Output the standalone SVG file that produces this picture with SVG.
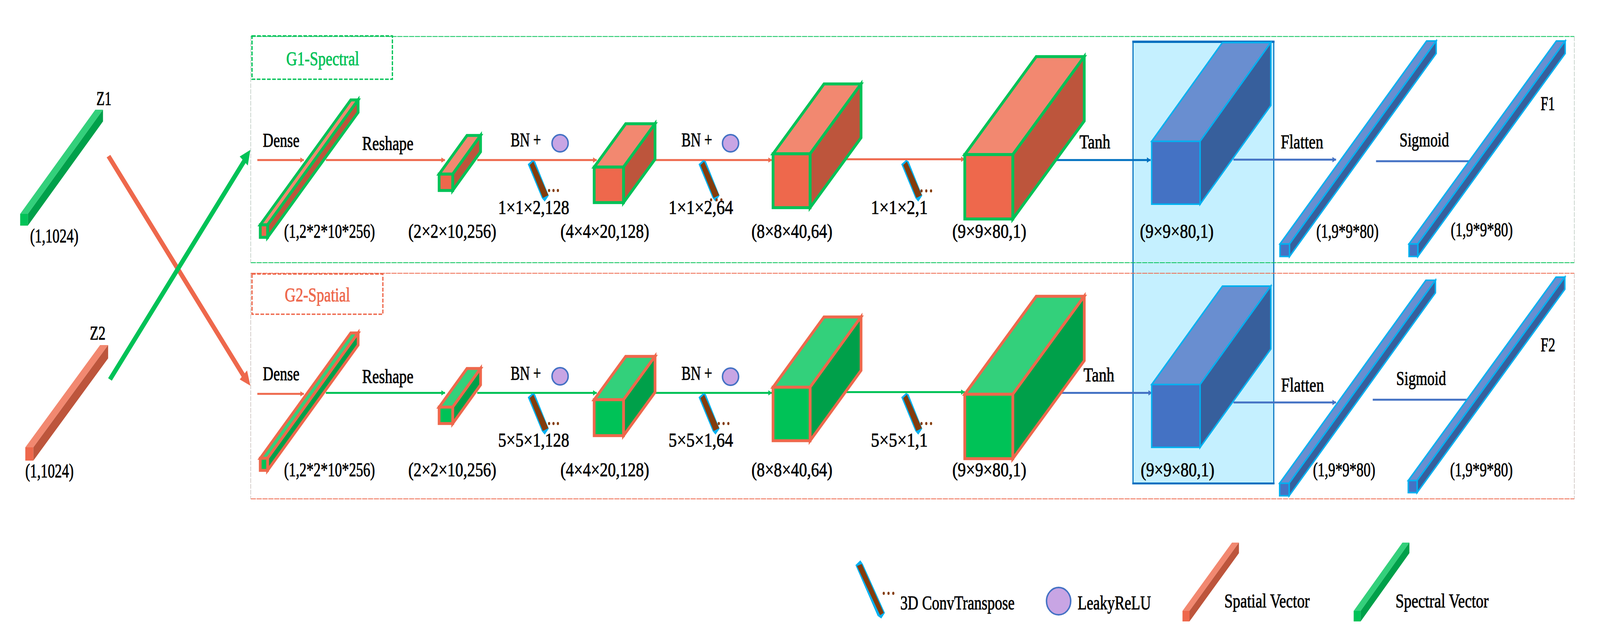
<svg xmlns="http://www.w3.org/2000/svg" xmlns:xlink="http://www.w3.org/1999/xlink" width="4365" height="1637" viewBox="0 0 4365 1637" preserveAspectRatio="none" style="display:block;width:100vw;height:100vh">
<style>
text{font-family:"Liberation Serif","Times New Roman",serif;font-size:51px;fill:#000;stroke:#000;stroke-width:1px}
.of{fill:#EE684C}.ot{fill:#F28870}.os{fill:#BD553C}
.gf{fill:#00C257}.gt{fill:#33D07B}.gs{fill:#00A04A}
.bf{fill:#4472C4}.bt{fill:#698ED0}.bs{fill:#375F9C}
.sg *{stroke:#00C257;stroke-width:7.5;stroke-miterlimit:10}
.so *{stroke:#EE684C;stroke-width:7.5;stroke-miterlimit:10}
.sc *{stroke:#00B0F0;stroke-width:4;stroke-miterlimit:10}
.ar{fill:none;stroke-width:5}
.ao{stroke:#EE684C;marker-end:url(#ho)}.ag{stroke:#00C257;marker-end:url(#hg)}
.ab{stroke:#0070C0;marker-end:url(#hb)}.as{stroke:#4472C4;marker-end:url(#hs)}
.led{fill:#C8A5E4;stroke:#4472C4;stroke-width:4}
.dot{fill:#843C0C}
</style>
<defs>
<marker id="ho" markerUnits="userSpaceOnUse" markerWidth="12" markerHeight="16" refX="10" refY="7" orient="auto"><path d="M0,0L10,7L0,14Z" fill="#EE684C"/></marker>
<marker id="hg" markerUnits="userSpaceOnUse" markerWidth="12" markerHeight="16" refX="10" refY="7" orient="auto"><path d="M0,0L10,7L0,14Z" fill="#00C257"/></marker>
<marker id="hb" markerUnits="userSpaceOnUse" markerWidth="12" markerHeight="16" refX="10" refY="7" orient="auto"><path d="M0,0L10,7L0,14Z" fill="#0070C0"/></marker>
<marker id="hs" markerUnits="userSpaceOnUse" markerWidth="12" markerHeight="16" refX="10" refY="7" orient="auto"><path d="M0,0L10,7L0,14Z" fill="#4472C4"/></marker>
<g id="blade">
<polygon points="-12,10 0,0 6,3 43,90 33,104 26,96" fill="#00B0F0" stroke="#00B0F0" stroke-width="2"/>
<polygon points="-8,12 2,3 43,89 28,96" fill="#843C0C"/>
</g>
</defs>
<rect width="4365" height="1637" fill="#fff"/>

<g id="highlight">
<rect x="3091" y="106" width="384" height="1132" fill="#C5F0FF" stroke="#0070C0" stroke-width="3"/>
<rect x="3089" y="104" width="388" height="6" fill="#0070C0"/>
<rect x="3089" y="1236" width="388" height="5" fill="#0070C0"/>
</g>

<g id="frame-g1" fill="none">
<path d="M684,93.5H4295M684,673H4295" stroke="#00C257" stroke-width="2" stroke-dasharray="14 2"/>
<path d="M684,93.5V673M4295,93.5V673" stroke="#B5C4BA" stroke-width="1.5" stroke-dasharray="12 3"/>
<rect x="687.500" y="92" width="383" height="111" stroke="#00C257" stroke-width="3.500" stroke-dasharray="10 4"/>
<text x="781" y="167" textLength="199" lengthAdjust="spacingAndGlyphs" style="fill:#00C257;stroke:#00C257">G1-Spectral</text>
</g>
<g id="frame-g2" fill="none">
<path d="M684,700H4295M684,1278H4295" stroke="#EE684C" stroke-width="2" stroke-dasharray="14 2"/>
<path d="M684,700V1278M4295,700V1278" stroke="#C4BAB5" stroke-width="1.5" stroke-dasharray="12 3"/>
<rect x="687.500" y="702" width="357" height="103" stroke="#EE684C" stroke-width="3.500" stroke-dasharray="10 4"/>
<text x="777" y="772" textLength="178" lengthAdjust="spacingAndGlyphs" style="fill:#EE684C;stroke:#EE684C">G2-Spatial</text>
</g>

<g id="connectors">
<path d="M296,400L668,968" stroke="#EE684C" stroke-width="12" fill="none"/>
<polygon points="683,988 674,949 654,972" fill="#EE684C"/>
<path d="M300,972L668,410" stroke="#00C257" stroke-width="12" fill="none"/>
<polygon points="683,384 654,401 676,424" fill="#00C257"/>
<path class="ar ao" d="M702,410H829"/>
<path class="ar ao" d="M889,410H1214"/>
<path class="ar ao" d="M1302,410H1628"/>
<path class="ar ao" d="M1781,410H2106"/>
<path class="ar ao" d="M2309,408H2632"/>
<path class="ar ab" d="M2880,410H3139"/>
<path class="ar as" d="M3365,409H3645"/>
<path class="ar" stroke="#4472C4" d="M3754,413H4008"/>
<path class="ar ao" d="M702,1009H829"/>
<path class="ar ag" d="M889,1006.500H1214"/>
<path class="ar ag" d="M1302,1006.500H1628"/>
<path class="ar ag" d="M1781,1006.500H2106"/>
<path class="ar ag" d="M2309,1004.500H2632"/>
<path class="ar as" d="M2880,1006.500H3143"/>
<path class="ar as" d="M3365,1031H3645"/>
<path class="ar" stroke="#4472C4" d="M3745,1024H4002"/>
</g>

<g id="z1">
<rect class="gf" x="55" y="548" width="21" height="30"/>
<polygon class="gt" points="55,548 260,281 281,281 76,548"/>
<polygon class="gs" points="76,548 281,281 281,311 76,578"/>
<text x="263" y="269" textLength="41" lengthAdjust="spacingAndGlyphs">Z1</text>
<text x="82" y="621" textLength="132" lengthAdjust="spacingAndGlyphs">(1,1024)</text>
</g>
<g id="z2">
<rect class="of" x="69" y="1146" width="22" height="34"/>
<polygon class="ot" points="69,1146 273,884 295,884 91,1146"/>
<polygon class="os" points="91,1146 295,884 295,918 91,1180"/>
<text x="245" y="870" textLength="43" lengthAdjust="spacingAndGlyphs">Z2</text>
<text x="69" y="1223" textLength="132" lengthAdjust="spacingAndGlyphs">(1,1024)</text>
</g>

<g id="g1-dense" class="sg">
<polygon class="ot" points="710,576 957,256 977,256 730,576"/>
<polygon class="os" points="730,576 977,256 977,288 730,608"/>
<rect class="of" x="710" y="576" width="20" height="32"/>
</g>
<g id="g1-reshape" class="sg">
<polygon class="ot" points="1198,446 1274,347 1311,347 1235,446"/>
<polygon class="os" points="1235,446 1311,347 1311,389 1235,488"/>
<rect class="of" x="1198" y="446" width="37" height="42"/>
</g>
<g id="g1-cube4" class="sg">
<polygon class="ot" points="1621,428 1707,317 1787,317 1701,428"/>
<polygon class="os" points="1701,428 1787,317 1787,408 1701,519"/>
<rect class="of" x="1621" y="428" width="80" height="91"/>
</g>
<g id="g1-cube8" class="sg">
<polygon class="ot" points="2109,394 2248,215 2349,215 2210,394"/>
<polygon class="os" points="2210,394 2349,215 2349,353 2210,532"/>
<rect class="of" x="2109" y="394" width="101" height="138"/>
</g>
<g id="g1-cube9" class="sg">
<polygon class="ot" points="2632,396 2827,145 2958,145 2763,396"/>
<polygon class="os" points="2763,396 2958,145 2958,310 2763,561"/>
<rect class="of" x="2632" y="396" width="131" height="165"/>
</g>
<g id="g1-blue" class="sc">
<polygon class="bt" points="3142,362 3335,109 3467,109 3274,362"/>
<polygon class="bs" points="3274,362 3467,109 3467,270 3274,523"/>
<rect class="bf" x="3142" y="362" width="132" height="161"/>
</g>
<g id="g1-flat" class="sc">
<polygon class="bt" points="3492,625 3892,105 3918,105 3518,625"/>
<polygon class="bs" points="3518,625 3918,105 3918,137 3518,657"/>
<rect class="bf" x="3492" y="625" width="26" height="32"/>
</g>
<g id="g1-f1" class="sc">
<polygon class="bt" points="3844,625 4246,105 4270,105 3868,625"/>
<polygon class="bs" points="3868,625 4270,105 4270,137 3868,657"/>
<rect class="bf" x="3844" y="625" width="24" height="32"/>
</g>

<g id="g2-dense" class="so">
<polygon class="gt" points="710,1174 957,853 977,853 730,1174"/>
<polygon class="gs" points="730,1174 977,853 977,884 730,1205"/>
<rect class="gf" x="710" y="1174" width="20" height="31"/>
</g>
<g id="g2-reshape" class="so">
<polygon class="gt" points="1198,1043 1274,944 1311,944 1235,1043"/>
<polygon class="gs" points="1235,1043 1311,944 1311,986 1235,1085"/>
<rect class="gf" x="1198" y="1043" width="37" height="42"/>
</g>
<g id="g2-cube4" class="so">
<polygon class="gt" points="1621,1024 1707,913 1787,913 1701,1024"/>
<polygon class="gs" points="1701,1024 1787,913 1787,1005 1701,1116"/>
<rect class="gf" x="1621" y="1024" width="80" height="92"/>
</g>
<g id="g2-cube8" class="so">
<polygon class="gt" points="2109,992 2248,812 2349,812 2210,992"/>
<polygon class="gs" points="2210,992 2349,812 2349,949 2210,1129"/>
<rect class="gf" x="2109" y="992" width="101" height="137"/>
</g>
<g id="g2-cube9" class="so">
<polygon class="gt" points="2632,1010 2827,759 2958,759 2763,1010"/>
<polygon class="gs" points="2763,1010 2958,759 2958,924 2763,1175"/>
<rect class="gf" x="2632" y="1010" width="131" height="165"/>
</g>
<g id="g2-blue" class="sc">
<polygon class="bt" points="3142,985 3335,733 3467,733 3274,985"/>
<polygon class="bs" points="3274,985 3467,733 3467,894 3274,1146"/>
<rect class="bf" x="3142" y="985" width="132" height="161"/>
</g>
<g id="g2-flat" class="sc">
<polygon class="bt" points="3491,1238 3890,718 3916,718 3517,1238"/>
<polygon class="bs" points="3517,1238 3916,718 3916,750 3517,1270"/>
<rect class="bf" x="3491" y="1238" width="26" height="32"/>
</g>
<g id="g2-f2" class="sc">
<polygon class="bt" points="3842,1231 4245,710 4269,710 3866,1231"/>
<polygon class="bs" points="3866,1231 4269,710 4269,741 3866,1262"/>
<rect class="bf" x="3842" y="1231" width="24" height="31"/>
</g>

<g id="g1-ops">
<use xlink:href="#blade" href="#blade" x="1453" y="411"/>
<use xlink:href="#blade" href="#blade" x="1919" y="411"/>
<use xlink:href="#blade" href="#blade" x="2472" y="411"/>
<circle class="led" cx="1528" cy="367" r="22"/>
<circle class="led" cx="1993" cy="367" r="22"/>
<g class="dot"><ellipse cx="1498" cy="488" rx="3" ry="4"/><ellipse cx="1510" cy="488" rx="3" ry="4"/><ellipse cx="1522" cy="488" rx="3" ry="4"/>
<ellipse cx="1940" cy="512" rx="3" ry="4"/><ellipse cx="1955" cy="512" rx="3" ry="4"/><ellipse cx="1968" cy="512" rx="3" ry="4"/>
<ellipse cx="2514" cy="489" rx="3" ry="4"/><ellipse cx="2527" cy="489" rx="3" ry="4"/><ellipse cx="2540" cy="489" rx="3" ry="4"/></g>
</g>
<g id="g2-ops">
<use xlink:href="#blade" href="#blade" x="1453" y="1008"/>
<use xlink:href="#blade" href="#blade" x="1919" y="1008"/>
<use xlink:href="#blade" href="#blade" x="2472" y="1008"/>
<circle class="led" cx="1528" cy="964" r="22"/>
<circle class="led" cx="1993" cy="965" r="22"/>
<g class="dot"><ellipse cx="1498" cy="1085" rx="3" ry="4"/><ellipse cx="1510" cy="1085" rx="3" ry="4"/><ellipse cx="1522" cy="1085" rx="3" ry="4"/>
<ellipse cx="1961" cy="1085" rx="3" ry="4"/><ellipse cx="1974" cy="1085" rx="3" ry="4"/><ellipse cx="1987" cy="1085" rx="3" ry="4"/>
<ellipse cx="2514" cy="1085" rx="3" ry="4"/><ellipse cx="2527" cy="1085" rx="3" ry="4"/><ellipse cx="2540" cy="1085" rx="3" ry="4"/></g>
</g>

<g id="g1-labels">
<text x="717" y="376" textLength="100" lengthAdjust="spacingAndGlyphs">Dense</text>
<text x="988" y="384" textLength="140" lengthAdjust="spacingAndGlyphs">Reshape</text>
<text x="1393" y="375" textLength="83" lengthAdjust="spacingAndGlyphs">BN +</text>
<text x="1859" y="375" textLength="84" lengthAdjust="spacingAndGlyphs">BN +</text>
<text x="2945" y="380" textLength="84" lengthAdjust="spacingAndGlyphs">Tanh</text>
<text x="3494" y="380" textLength="116" lengthAdjust="spacingAndGlyphs">Flatten</text>
<text x="3818" y="375" textLength="135" lengthAdjust="spacingAndGlyphs">Sigmoid</text>
<text x="4203" y="282" textLength="39" lengthAdjust="spacingAndGlyphs">F1</text>
<text x="1359" y="548" textLength="194" lengthAdjust="spacingAndGlyphs">1×1×2,128</text>
<text x="1824" y="548" textLength="176" lengthAdjust="spacingAndGlyphs">1×1×2,64</text>
<text x="2376" y="548" textLength="155" lengthAdjust="spacingAndGlyphs">1×1×2,1</text>
<text x="775" y="609" textLength="248" lengthAdjust="spacingAndGlyphs">(1,2*2*10*256)</text>
<text x="1114" y="609" textLength="240" lengthAdjust="spacingAndGlyphs">(2×2×10,256)</text>
<text x="1529" y="609" textLength="242" lengthAdjust="spacingAndGlyphs">(4×4×20,128)</text>
<text x="2050" y="609" textLength="221" lengthAdjust="spacingAndGlyphs">(8×8×40,64)</text>
<text x="2598" y="609" textLength="202" lengthAdjust="spacingAndGlyphs">(9×9×80,1)</text>
<text x="3110" y="609" textLength="201" lengthAdjust="spacingAndGlyphs">(9×9×80,1)</text>
<text x="3591" y="609" textLength="170" lengthAdjust="spacingAndGlyphs">(1,9*9*80)</text>
<text x="3958" y="605" textLength="169" lengthAdjust="spacingAndGlyphs">(1,9*9*80)</text>
</g>
<g id="g2-labels">
<text x="717" y="974" textLength="100" lengthAdjust="spacingAndGlyphs">Dense</text>
<text x="988" y="981" textLength="140" lengthAdjust="spacingAndGlyphs">Reshape</text>
<text x="1393" y="973" textLength="83" lengthAdjust="spacingAndGlyphs">BN +</text>
<text x="1859" y="973" textLength="84" lengthAdjust="spacingAndGlyphs">BN +</text>
<text x="2956" y="977" textLength="84" lengthAdjust="spacingAndGlyphs">Tanh</text>
<text x="3495" y="1003" textLength="117" lengthAdjust="spacingAndGlyphs">Flatten</text>
<text x="3809" y="986" textLength="136" lengthAdjust="spacingAndGlyphs">Sigmoid</text>
<text x="4203" y="900" textLength="40" lengthAdjust="spacingAndGlyphs">F2</text>
<text x="1359" y="1144" textLength="194" lengthAdjust="spacingAndGlyphs">5×5×1,128</text>
<text x="1824" y="1144" textLength="176" lengthAdjust="spacingAndGlyphs">5×5×1,64</text>
<text x="2376" y="1144" textLength="155" lengthAdjust="spacingAndGlyphs">5×5×1,1</text>
<text x="775" y="1220" textLength="248" lengthAdjust="spacingAndGlyphs">(1,2*2*10*256)</text>
<text x="1114" y="1220" textLength="240" lengthAdjust="spacingAndGlyphs">(2×2×10,256)</text>
<text x="1529" y="1220" textLength="242" lengthAdjust="spacingAndGlyphs">(4×4×20,128)</text>
<text x="2050" y="1220" textLength="221" lengthAdjust="spacingAndGlyphs">(8×8×40,64)</text>
<text x="2598" y="1220" textLength="202" lengthAdjust="spacingAndGlyphs">(9×9×80,1)</text>
<text x="3112" y="1220" textLength="201" lengthAdjust="spacingAndGlyphs">(9×9×80,1)</text>
<text x="3582" y="1220" textLength="170" lengthAdjust="spacingAndGlyphs">(1,9*9*80)</text>
<text x="3956" y="1220" textLength="171" lengthAdjust="spacingAndGlyphs">(1,9*9*80)</text>
</g>

<g id="legend-conv">
<polygon points="2335,1448 2347,1437 2353,1445 2413,1570 2404,1583 2395,1577" fill="#00B0F0" stroke="#00B0F0" stroke-width="2"/>
<polygon points="2338,1450 2351,1445 2411,1570 2401,1576" fill="#843C0C"/>
<g class="dot"><ellipse cx="2411" cy="1520" rx="3" ry="4"/><ellipse cx="2424" cy="1520" rx="3" ry="4"/><ellipse cx="2437" cy="1520" rx="3" ry="4"/></g>
<text x="2456" y="1561" textLength="312" lengthAdjust="spacingAndGlyphs">3D ConvTranspose</text>
</g>
<g id="legend-leaky">
<ellipse class="led" cx="2888" cy="1540" rx="33" ry="35"/>
<text x="2940" y="1561" textLength="200" lengthAdjust="spacingAndGlyphs">LeakyReLU</text>
</g>
<g id="legend-spatial">
<rect class="of" x="3226" y="1565" width="19" height="27"/>
<polygon class="ot" points="3226,1565 3361,1390 3380,1390 3245,1565"/>
<polygon class="os" points="3245,1565 3380,1390 3380,1417 3245,1592"/>
<text x="3340" y="1556" textLength="233" lengthAdjust="spacingAndGlyphs">Spatial Vector</text>
</g>
<g id="legend-spectral">
<rect class="gf" x="3693" y="1565" width="19" height="27"/>
<polygon class="gt" points="3693,1565 3826,1390 3845,1390 3712,1565"/>
<polygon class="gs" points="3712,1565 3845,1390 3845,1417 3712,1592"/>
<text x="3807" y="1556" textLength="254" lengthAdjust="spacingAndGlyphs">Spectral Vector</text>
</g>
</svg>
